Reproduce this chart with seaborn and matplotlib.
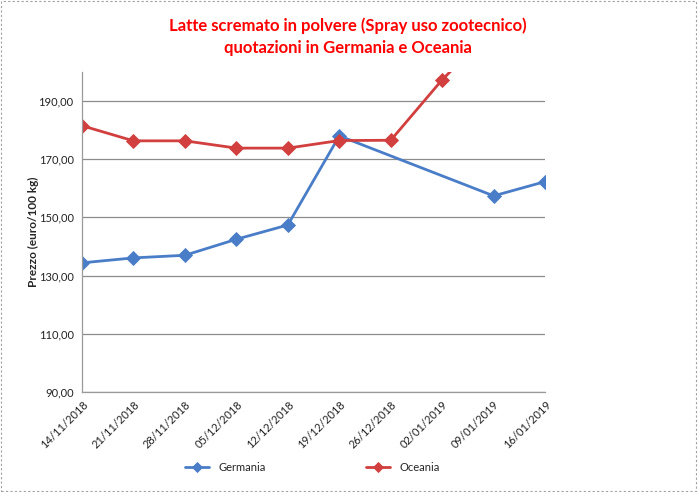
import numpy as np
import pandas as pd
import seaborn as sns
import matplotlib.pyplot as plt
from matplotlib.patches import Rectangle
from matplotlib.ticker import FuncFormatter

sns.set_style("white")
plt.rcParams['font.family'] = ['Lato', 'DejaVu Sans']

dates = ["14/11/2018", "21/11/2018", "28/11/2018", "05/12/2018", "12/12/2018",
         "19/12/2018", "26/12/2018", "02/01/2019", "09/01/2019", "16/01/2019"]
germania = [134.4, 136.1, 137.0, 142.5, 147.4, 178.0, np.nan, np.nan, 157.4, 162.3]
oceania = [181.5, 176.3, 176.3, 173.8, 173.8, 176.4, 176.5, 197.3, 215.0, np.nan]
yticks = [90, 110, 130, 150, 170, 190]

BLUE = "#4A7DC8"
RED = "#D13F3F"


def build_df():
    rows = []
    for name, vals in [("Germania", germania), ("Oceania", oceania)]:
        for i, (d, v) in enumerate(zip(dates, vals)):
            rows.append({"pos": i, "date": d, "serie": name, "prezzo": v})
    data = pd.DataFrame(rows)
    # excel joins across missing weeks, so drop the gaps
    return data.dropna()


def main():
    data = build_df()

    fig = plt.figure(figsize=(6.98, 4.92), dpi=100)
    ax = fig.add_axes([0.1175, 0.203, 0.6635, 0.651])

    ax.yaxis.grid(True, color="#8c8c8c", linewidth=0.9)
    ax.set_axisbelow(True)

    sns.lineplot(data=data, x="pos", y="prezzo", hue="serie",
                 palette={"Germania": BLUE, "Oceania": RED},
                 marker="D", markersize=7, linewidth=2, markeredgewidth=0.6,
                 ax=ax, sort=False)
    for ln in ax.lines:
        ln.set_markeredgecolor(ln.get_color())

    ax.set_xlim(0, len(dates) - 1)
    ax.set_ylim(90, 200)
    ax.set_yticks(yticks)
    ax.yaxis.set_major_formatter(FuncFormatter(lambda v, p: f"{v:.2f}".replace(".", ",")))
    ax.set_xticks(range(len(dates)))
    ax.set_xticklabels(dates, rotation=45, ha="right", rotation_mode="anchor")

    for s in ["top", "right"]:
        ax.spines[s].set_visible(False)
    for s in ["left", "bottom"]:
        ax.spines[s].set_color("#9a9a9a")
        ax.spines[s].set_linewidth(0.9)
    ax.tick_params(axis="both", which="both", direction="out", length=4,
                   color="#9a9a9a", labelsize=8, labelcolor="#222222", pad=2)
    ax.tick_params(axis="x", pad=1)

    ax.set_xlabel("")
    ax.set_ylabel("Prezzo (euro/100 kg)", fontsize=8.5, fontweight="bold", labelpad=0)

    fig.text(0.498, 0.925, "Latte scremato in polvere (Spray uso zootecnico)\nquotazioni in Germania e Oceania",
             ha="center", va="center", color="#FF0000", fontsize=12,
             fontweight="bold", linespacing=1.5)

    handles, labels = ax.get_legend_handles_labels()
    ax.legend(handles, labels, loc="center", bbox_to_anchor=(0.497, -0.234),
              ncol=2, frameon=False, fontsize=8, columnspacing=9,
              handlelength=2.2, markerscale=0.8)

    fig.patches.append(Rectangle((0.002, 0.003), 0.995, 0.994, transform=fig.transFigure,
                                 fill=False, edgecolor="#a0a0a0", linestyle=(0, (2, 2)),
                                 linewidth=0.8))

    fig.savefig("out.png", dpi=100)


if __name__ == "__main__":
    main()
